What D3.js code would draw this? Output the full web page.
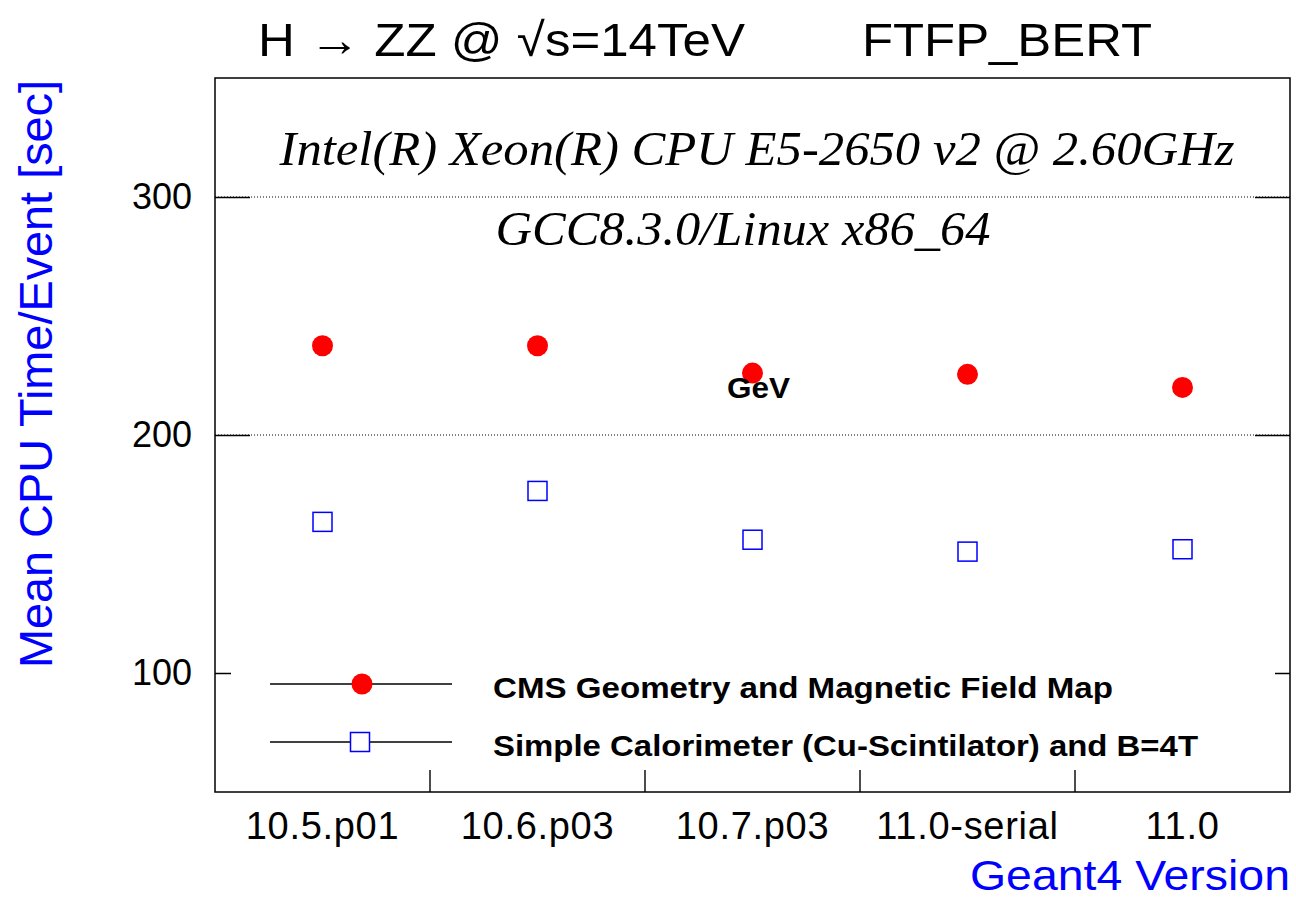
<!DOCTYPE html>
<html>
<head>
<meta charset="utf-8">
<script src="https://cdn.jsdelivr.net/npm/d3@7"></script>
<style>
  body { margin: 0; background: #fff; }
  svg { display: block; }
</style>
</head>
<body>
<svg id="chart"></svg>
<script>
  // data
  const versions = ["10.5.p01", "10.6.p03", "10.7.p03", "11.0-serial", "11.0"];
  const cmsTimes = [237.5, 237.5, 226, 225.5, 220];
  const simpleTimes = [163.5, 176.5, 156, 151, 152];
  const yTicks = [100, 200, 300];
  const gridTicks = [200, 300];
  const legendLabels = ["CMS Geometry and Magnetic Field Map", "Simple Calorimeter (Cu-Scintilator) and B=4T"];

  const W = 1296, H = 901;
  const margin = { top: 78, bottom: 109, left: 215, right: 6 };
  const width = W - margin.left - margin.right;
  const height = H - margin.top - margin.bottom;

  const svg = d3.select("#chart").attr("width", W).attr("height", H);
  const g = svg.append("g").attr("transform", `translate(${margin.left},${margin.top})`);

  const xscale = d3.scaleBand().domain(versions).range([0, width]);
  const yscale = d3.scaleLinear().domain([50, 350]).range([height, 0]);

  const sans = "'Liberation Sans', Arial, Helvetica, sans-serif";
  const serif = "'Liberation Serif', 'Times New Roman', serif";

  // text helper, stretched to the width seen in the plot
  function label(parent, x, y, str, size, len, opts = {}) {
    const t = parent.append("text")
      .attr("x", x).attr("y", y)
      .attr("font-family", opts.family || sans)
      .attr("font-size", size)
      .attr("fill", opts.fill || "#000")
      .text(str);
    if (opts.anchor) t.attr("text-anchor", opts.anchor);
    if (opts.weight) t.attr("font-weight", opts.weight);
    if (opts.style) t.attr("font-style", opts.style);
    if (opts.transform) t.attr("transform", opts.transform);
    if (len) t.attr("textLength", len).attr("lengthAdjust", "spacingAndGlyphs");
    return t;
  }

  // dotted grid lines
  g.append("g")
    .selectAll("line")
    .data(gridTicks)
    .join("line")
    .attr("x1", 0).attr("x2", width)
    .attr("y1", (d) => yscale(d)).attr("y2", (d) => yscale(d))
    .attr("stroke", "#000").attr("stroke-width", 1)
    .attr("stroke-dasharray", "1,2");

  // y ticks (left + right, inward)
  const yaxis = d3.axisLeft(yscale).tickValues(yTicks).tickSize(-35).tickPadding(24);
  const g_yaxis = g.append("g").call(yaxis);
  g_yaxis.select(".domain").remove();
  g_yaxis.selectAll("text").attr("font-family", sans).attr("font-size", 36).attr("fill", "#000")
    .attr("dx", 1);
  g_yaxis.selectAll("line").attr("stroke-width", 1.4);

  const yaxisR = d3.axisRight(yscale).tickValues(yTicks).tickSize(-35).tickFormat("");
  const g_yaxisR = g.append("g").attr("transform", `translate(${width},0)`).call(yaxisR);
  g_yaxisR.select(".domain").remove();
  g_yaxisR.selectAll("line").attr("stroke-width", 1.4);

  // x ticks at category boundaries
  const bounds = versions.slice(1).map((v) => xscale(v));
  g.append("g")
    .selectAll("line")
    .data(bounds)
    .join("line")
    .attr("x1", (d) => d).attr("x2", (d) => d)
    .attr("y1", height).attr("y2", height - 22)
    .attr("stroke", "#000").attr("stroke-width", 1.4);

  const xaxis = d3.axisBottom(xscale).tickSize(0).tickPadding(20);
  const g_xaxis = g.append("g").attr("transform", `translate(0,${height})`).call(xaxis);
  g_xaxis.select(".domain").remove();
  g_xaxis.selectAll("text").attr("font-family", sans).attr("font-size", 38).attr("fill", "#000")
    .attr("letter-spacing", 0.7);

  // frame
  g.append("rect")
    .attr("width", width).attr("height", height)
    .attr("fill", "none").attr("stroke", "#000").attr("stroke-width", 1.5);

  // annotations inside plot
  label(svg, 757, 165, "Intel(R) Xeon(R) CPU E5-2650 v2 @ 2.60GHz", 48, 955,
    { family: serif, style: "italic", anchor: "middle" });
  label(svg, 743, 245, "GCC8.3.0/Linux x86_64", 48, 495,
    { family: serif, style: "italic", anchor: "middle" });

  // red points
  g.append("g")
    .selectAll("circle")
    .data(cmsTimes)
    .join("circle")
    .attr("cx", (d, i) => xscale(versions[i]) + xscale.bandwidth() / 2)
    .attr("cy", (d) => yscale(d))
    .attr("r", 10.5)
    .attr("fill", "#ff0000");

  // blue open squares
  const sq = 19;
  g.append("g")
    .selectAll("rect")
    .data(simpleTimes)
    .join("rect")
    .attr("x", (d, i) => xscale(versions[i]) + xscale.bandwidth() / 2 - sq / 2)
    .attr("y", (d) => yscale(d) - sq / 2)
    .attr("width", sq).attr("height", sq)
    .attr("fill", "none").attr("stroke", "#0000ff").attr("stroke-width", 1.5);

  label(svg, 727, 398, "GeV", 29, 63, { weight: "bold" });

  // legend
  const legend = svg.append("g");
  legend.append("rect")
    .attr("x", 231).attr("y", 648).attr("width", 1044).attr("height", 122)
    .attr("fill", "#fff");
  const legendY = [684, 742];
  legendY.forEach((y, i) => {
    legend.append("line")
      .attr("x1", 270).attr("x2", 452).attr("y1", y).attr("y2", y)
      .attr("stroke", "#000").attr("stroke-width", 1.5);
    if (i === 0) {
      legend.append("circle").attr("cx", 362).attr("cy", y).attr("r", 10.5).attr("fill", "#ff0000");
    } else {
      legend.append("rect").attr("x", 350.5).attr("y", y - 9.5).attr("width", 19).attr("height", 19)
        .attr("fill", "#fff").attr("stroke", "#0000ff").attr("stroke-width", 1.5);
    }
  });
  label(legend, 493, 698, legendLabels[0], 30, 620, { weight: "bold" });
  label(legend, 493, 756, legendLabels[1], 30, 705, { weight: "bold" });

  // title
  label(svg, 258, 56, "H \u2192 ZZ @ \u221As=14TeV", 47, 487);
  label(svg, 862, 56, "FTFP_BERT", 47, 290);

  // axis titles
  label(svg, 0, 0, "Mean CPU Time/Event [sec]", 46, 588,
    { fill: "#0000ff", anchor: "end", transform: "translate(52,80) rotate(-90)" });
  label(svg, 1290, 890, "Geant4 Version", 43, 320, { fill: "#0000ff", anchor: "end" });
</script>
</body>
</html>
